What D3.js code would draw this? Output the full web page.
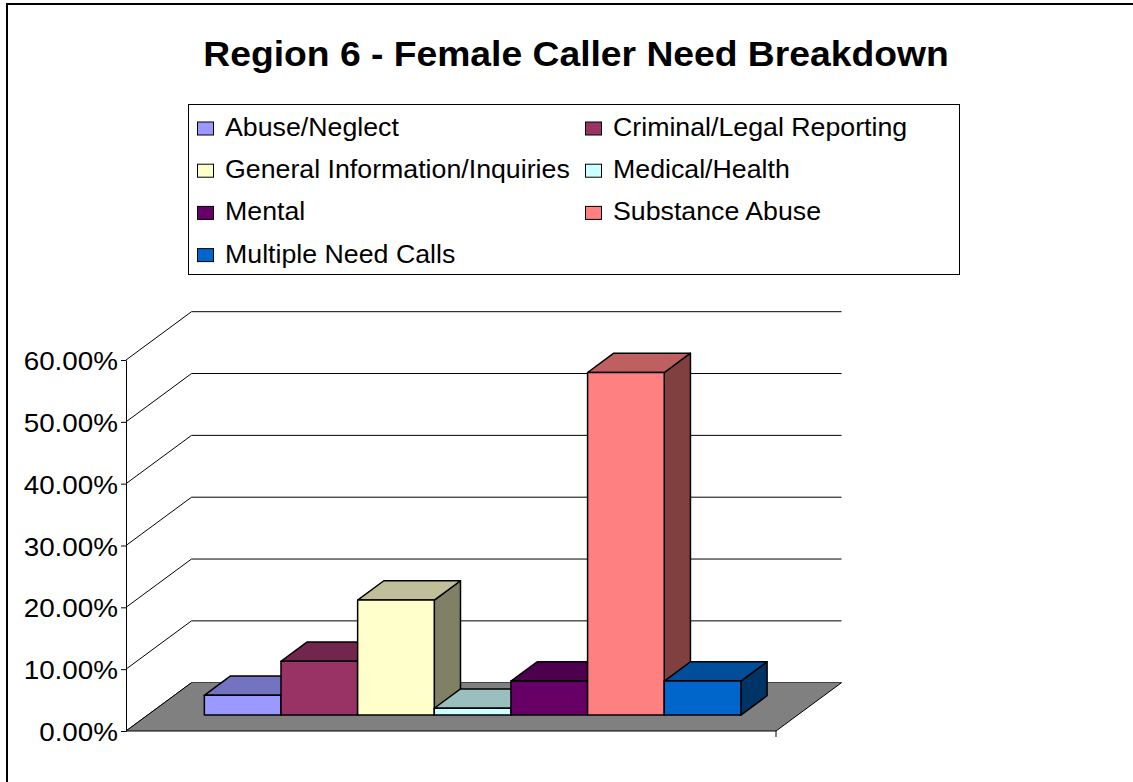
<!DOCTYPE html>
<meta charset="utf-8">
<style>
  body { margin: 0; background: #fff; }
  text { font-family: "Liberation Sans", Arial, sans-serif; }
</style>

<!-- Load d3.js -->
<script src="https://d3js.org/d3.v7.min.js"></script>

<!-- Create a div where the graph will take place -->
<div id="my_dataviz"></div>

<script>

// data
var categories = ["Abuse/Neglect", "Criminal/Legal Reporting", "General Information/Inquiries",
                  "Medical/Health", "Mental", "Substance Abuse", "Multiple Need Calls"];
var values = [0.032, 0.087, 0.186, 0.011, 0.055, 0.554, 0.055];
var colors = ["#9999FF", "#993366", "#FFFFCC", "#CCFFFF", "#660066", "#FF8080", "#0066CC"];
var yTicks = [0, 0.1, 0.2, 0.3, 0.4, 0.5, 0.6];

var W = 1133, H = 782;

var svg = d3.select("#my_dataviz")
  .append("svg")
    .attr("width", W)
    .attr("height", H);

// outer chart border (runs off the bottom/right of the picture)
svg.append("rect")
  .attr("x", 7).attr("y", 4)
  .attr("width", W + 50).attr("height", H + 50)
  .attr("fill", "#fff")
  .attr("stroke", "#000")
  .attr("stroke-width", 2);

// title
svg.append("text")
  .attr("transform", "translate(576,66) scale(1.065,1)")
  .attr("text-anchor", "middle")
  .style("font-size", "35px")
  .style("font-weight", "bold")
  .text("Region 6 - Female Caller Need Breakdown");

// scales (front plane of the plot box)
var x = d3.scaleBand()
  .domain(categories)
  .range([126, 776])
  .paddingInner(0)
  .paddingOuter(0.74);

var y = d3.scaleLinear()
  .domain([0, 0.6])
  .range([731, 360]);

// depth of the box and where the bars sit in it
var depthX = 65.5, depthY = -48.3;
var d0 = 0.33, d1 = 0.73;

function P(px, v, d) {
  return [px + d * depthX, y(v) + d * depthY];
}
function poly(pts) {
  return "M" + pts.map(function(p) { return p[0] + "," + p[1]; }).join("L") + "Z";
}
function shade(col, k) {
  var c = d3.rgb(col);
  return d3.rgb(c.r * k, c.g * k, c.b * k);
}

var xl = x.range()[0], xr = x.range()[1];

// walls: left wall diagonals and back wall gridlines
svg.selectAll("leftwall")
  .data(yTicks)
  .enter()
  .append("line")
    .attr("x1", function(d) { return P(xl, d, 0)[0]; })
    .attr("y1", function(d) { return P(xl, d, 0)[1]; })
    .attr("x2", function(d) { return P(xl, d, 1)[0]; })
    .attr("y2", function(d) { return P(xl, d, 1)[1]; })
    .attr("stroke", "#000");

svg.selectAll("backwall")
  .data(yTicks)
  .enter()
  .append("line")
    .attr("x1", function(d) { return P(xl, d, 1)[0]; })
    .attr("y1", function(d) { return P(xl, d, 1)[1]; })
    .attr("x2", function(d) { return P(xr, d, 1)[0]; })
    .attr("y2", function(d) { return P(xr, d, 1)[1]; })
    .attr("stroke", "#000");

// floor
svg.append("path")
  .attr("d", poly([P(xl, 0, 0), P(xr, 0, 0), P(xr, 0, 1), P(xl, 0, 1)]))
  .attr("fill", "#808080");
svg.append("path")
  .attr("d", "M" + P(xl, 0, 1) + "L" + P(xl, 0, 0) + "L" + P(xr, 0, 0) + "L" + P(xr, 0, 1))
  .attr("fill", "none")
  .attr("stroke", "#000");

// little tick at the right front corner
svg.append("line")
  .attr("x1", xr).attr("x2", xr)
  .attr("y1", y(0)).attr("y2", y(0) + 6)
  .attr("stroke", "#000");

// Y axis
var yAxis = svg.append("g")
  .attr("transform", "translate(" + xl + ",0)")
  .call(d3.axisLeft(y).tickValues(yTicks).tickFormat(d3.format(".2%")).tickSize(5).tickSizeOuter(0));
yAxis.select(".domain").attr("stroke", "#000");
yAxis.selectAll(".tick line").attr("stroke", "#000");
yAxis.selectAll(".tick text")
  .attr("x", null).attr("dy", null)
  .attr("transform", "translate(-8,9.5) scale(1.07,1)")
  .attr("fill", "#000")
  .style("font-size", "26px")
  .style("font-family", "'Liberation Sans', Arial, sans-serif");

// bars, left to right so each front face covers the side of the one before
var rows = categories.map(function(c, i) { return {cat: c, v: values[i], col: colors[i]}; });

var bars = svg.selectAll("mybar")
  .data(rows)
  .enter()
  .append("g");

// right side
bars.append("path")
  .attr("d", function(d) {
    var x1 = x(d.cat) + x.bandwidth();
    return poly([P(x1, 0, d0), P(x1, 0, d1), P(x1, d.v, d1), P(x1, d.v, d0)]);
  })
  .attr("fill", function(d) { return shade(d.col, 0.5); })
  .attr("stroke", "#000").attr("stroke-width", 1.5).attr("stroke-linejoin", "round");

// top
bars.append("path")
  .attr("d", function(d) {
    var x0 = x(d.cat), x1 = x0 + x.bandwidth();
    return poly([P(x0, d.v, d0), P(x1, d.v, d0), P(x1, d.v, d1), P(x0, d.v, d1)]);
  })
  .attr("fill", function(d) { return shade(d.col, 0.75); })
  .attr("stroke", "#000").attr("stroke-width", 1.5).attr("stroke-linejoin", "round");

// front
bars.append("path")
  .attr("d", function(d) {
    var x0 = x(d.cat), x1 = x0 + x.bandwidth();
    return poly([P(x0, 0, d0), P(x1, 0, d0), P(x1, d.v, d0), P(x0, d.v, d0)]);
  })
  .attr("fill", function(d) { return d.col; })
  .attr("stroke", "#000").attr("stroke-width", 1.5).attr("stroke-linejoin", "round");

// legend
svg.append("rect")
  .attr("x", 188.5).attr("y", 104.5)
  .attr("width", 771).attr("height", 170)
  .attr("fill", "#fff")
  .attr("stroke", "#000");

var legend = svg.selectAll("mylegend")
  .data(rows)
  .enter()
  .append("g")
    .attr("transform", function(d, i) {
      var col = i % 2, row = Math.floor(i / 2);
      return "translate(" + (col === 0 ? 197.5 : 585.5) + "," + (136 + row * 42.2) + ")";
    });

legend.append("rect")
  .attr("x", 0).attr("y", -14)
  .attr("width", 16).attr("height", 13)
  .attr("fill", function(d) { return d.col; })
  .attr("stroke", "#000");

legend.append("text")
  .attr("transform", "translate(27.5,0) scale(1.07,1)")
  .style("font-size", "25px")
  .text(function(d) { return d.cat; });

</script>
